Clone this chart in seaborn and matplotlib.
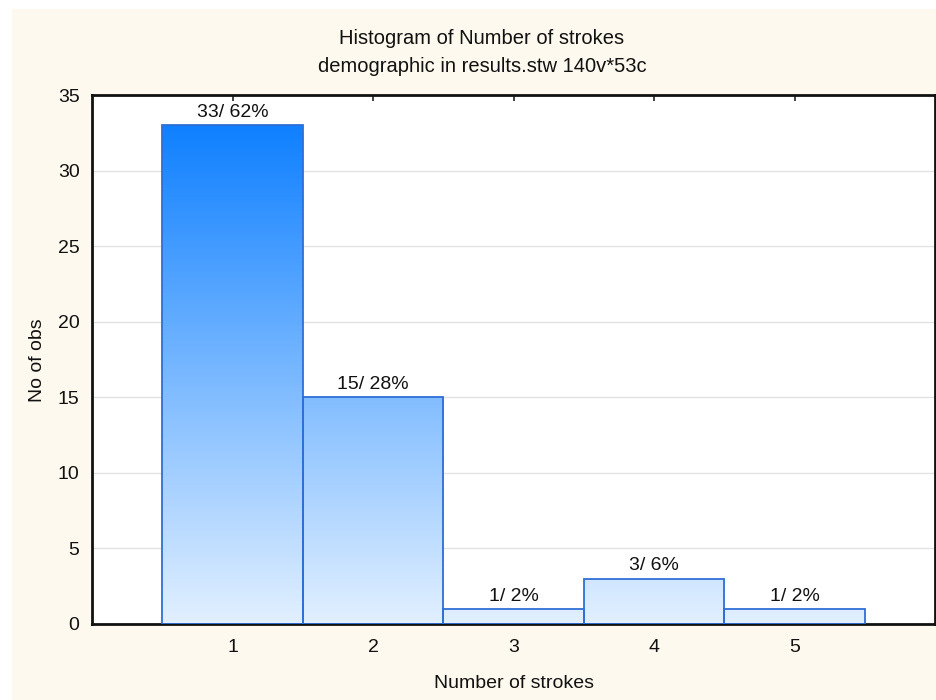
import numpy as np
import pandas as pd
import matplotlib
matplotlib.use("Agg")
import matplotlib.pyplot as plt
from matplotlib.colors import LinearSegmentedColormap
from matplotlib.patches import Rectangle
import seaborn as sns

# Histogram data: number of strokes per subject
strokes = [1, 2, 3, 4, 5]
counts = [33, 15, 1, 3, 1]
title_lines = ["Histogram of Number of strokes", "demographic in results.stw 140v*53c"]
x_label = "Number of strokes"
y_label = "No of obs"

sns.set_theme(style="white")
plt.rcParams["font.family"] = ["Liberation Sans", "DejaVu Sans"]

df = pd.DataFrame({"strokes": strokes, "count": counts})
total = sum(counts)

fig = plt.figure(figsize=(9.36, 7.0), dpi=100, facecolor="white")
# cream panel behind the chart
fig.patches.append(Rectangle((12 / 936, 0), 1 - 12 / 936, 1 - 9 / 700,
                             transform=fig.transFigure, facecolor="#FDF9EE",
                             edgecolor="none", zorder=-10))

ax = fig.add_axes([92 / 936, 76 / 700, (935 - 92) / 936, (624 - 95) / 700])
ax.set_facecolor("white")

sns.barplot(data=df, x="strokes", y="count", native_scale=True, width=1.0,
            ax=ax, color="#7fb8ff", edgecolor="#2f6fd6", linewidth=1.3,
            zorder=3)

# vertical gradient fill tied to the value axis
cmap = LinearSegmentedColormap.from_list("blues_grad", ["#E2F0FF", "#0F80FF"])
grad = np.linspace(0, 1, 256).reshape(-1, 1)
for patch in ax.patches:
    patch.set_facecolor("none")
    im = ax.imshow(grad, cmap=cmap, origin="lower", aspect="auto",
                   extent=(0, 6, 0, max(counts)), zorder=2,
                   interpolation="bicubic")
    im.set_clip_path(patch)
ax.set_xlim(0, 6)
ax.set_ylim(0, 35)

# count / percent labels above the bars
for x, c in zip(strokes, counts):
    ax.annotate(f"{c}/ {round(100 * c / total)}%", (x, c), xytext=(0, 3),
                textcoords="offset points", ha="center", va="bottom",
                fontsize=14, color="#111111", zorder=5)

ax.set_yticks(range(0, 36, 5))
ax.set_xticks(strokes)
ax.set_xticklabels([str(s) for s in strokes])
ax.yaxis.grid(True, color="#E2E2E2", linewidth=1.0, zorder=0)
ax.set_axisbelow(True)
ax.tick_params(axis="x", which="both", direction="in", length=4, width=1.2,
               top=True, bottom=True, color="#222222", labelsize=14,
               pad=11, labelcolor="#111111")
ax.tick_params(axis="y", direction="in", length=3, width=1.2,
               color="#222222", labelsize=14, pad=9, labelcolor="#111111")
ax.set_xlabel("")
ax.set_ylabel("")
for side, sp in ax.spines.items():
    sp.set_visible(True)
    sp.set_color("#111111")
    sp.set_linewidth(2.0)

fig.text(482 / 936, 1 - 39 / 700, title_lines[0], ha="center", va="center",
         fontsize=14.5, color="#111111")
fig.text(482 / 936, 1 - 67 / 700, title_lines[1], ha="center", va="center",
         fontsize=14.5, color="#111111")
fig.text(514 / 936, 1 - 683 / 700, x_label, ha="center", va="center",
         fontsize=14, color="#111111")
fig.text(37 / 936, 1 - 360 / 700, y_label, ha="center", va="center",
         rotation=90, fontsize=14, color="#111111")

fig.savefig("out.png", dpi=100, facecolor=fig.get_facecolor())
